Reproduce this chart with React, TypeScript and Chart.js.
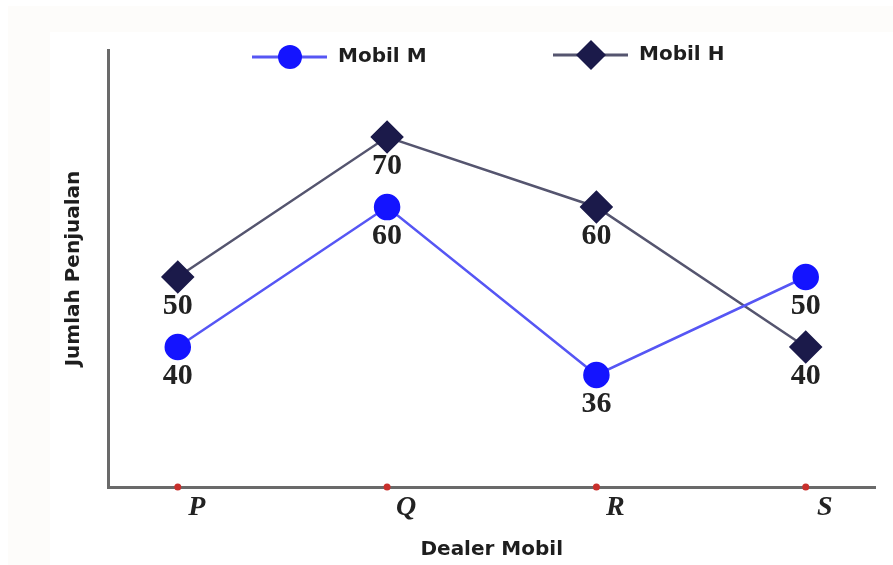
import React, { useEffect, useRef } from "react";
import { Chart, registerables } from "chart.js";

Chart.register(...registerables);

const categories = ["P", "Q", "R", "S"];
const mobilM = [40, 60, 36, 50];
const mobilH = [50, 70, 60, 40];
const seriesNames = ["Mobil M", "Mobil H"];
const yTitle = "Jumlah Penjualan";
const xTitle = "Dealer Mobil";

const colorM = "#1414ff";
const lineM = "#5656f4";
const colorH = "#1b1a4a";
const lineH = "#55556f";

const bgPlugin = {
  id: "bg",
  beforeDraw(chart: any) {
    const { ctx, width, height } = chart;
    ctx.save();
    ctx.fillStyle = "#ffffff";
    ctx.fillRect(0, 0, width, height);
    ctx.fillStyle = "#fdfcfa";
    ctx.fillRect(8, 6, width - 8, height - 6);
    ctx.fillStyle = "#ffffff";
    ctx.fillRect(50, 32, width - 50, height - 32);
    ctx.restore();
  },
};

const tickDotsPlugin = {
  id: "tickDots",
  afterDraw(chart: any) {
    const { ctx } = chart;
    const xs = chart.scales.x;
    const y = chart.chartArea.bottom;
    ctx.save();
    ctx.fillStyle = "#c8302c";
    categories.forEach((_, i) => {
      const x = xs.getPixelForValue(i);
      ctx.beginPath();
      ctx.arc(x, y, 3.5, 0, Math.PI * 2);
      ctx.fill();
    });
    ctx.restore();
  },
};

const dataLabelPlugin = {
  id: "dataLabels",
  afterDatasetsDraw(chart: any) {
    const { ctx } = chart;
    ctx.save();
    ctx.font = "bold 30px 'Liberation Serif', serif";
    ctx.fillStyle = "#222222";
    ctx.textAlign = "center";
    ctx.textBaseline = "middle";
    chart.data.datasets.forEach((ds: any, di: number) => {
      const meta = chart.getDatasetMeta(di);
      meta.data.forEach((pt: any, i: number) => {
        ctx.fillText(String(ds.data[i].y), pt.x, pt.y + 29);
      });
    });
    ctx.restore();
  },
};

const legendPlugin = {
  id: "customLegend",
  afterDraw(chart: any) {
    const { ctx } = chart;
    const spots = [
      { x: 252, y: 57 },
      { x: 553, y: 55 },
    ];
    ctx.save();
    chart.data.datasets.forEach((ds: any, di: number) => {
      const s = spots[di];
      ctx.strokeStyle = ds.borderColor;
      ctx.lineWidth = 3;
      ctx.beginPath();
      ctx.moveTo(s.x, s.y);
      ctx.lineTo(s.x + 75, s.y);
      ctx.stroke();
      const cx = s.x + 38;
      ctx.fillStyle = ds.pointBackgroundColor;
      ctx.beginPath();
      if (ds.pointStyle === "rectRot") {
        const r = 15;
        ctx.moveTo(cx - r, s.y);
        ctx.lineTo(cx, s.y - r);
        ctx.lineTo(cx + r, s.y);
        ctx.lineTo(cx, s.y + r);
        ctx.closePath();
      } else {
        ctx.arc(cx, s.y, 12, 0, Math.PI * 2);
      }
      ctx.fill();
      ctx.font = "bold 20px 'DejaVu Sans', sans-serif";
      ctx.fillStyle = "#1e1e1e";
      ctx.textAlign = "left";
      ctx.textBaseline = "middle";
      ctx.fillText(ds.label, s.x + 86, s.y);
    });
    ctx.restore();
  },
};

export default function App() {
  const ref = useRef<HTMLCanvasElement | null>(null);

  useEffect(() => {
    if (!ref.current) return;
    const chart = new Chart(ref.current, {
      type: "line",
      data: {
        datasets: [
          {
            label: seriesNames[0],
            data: mobilM.map((v, i) => ({ x: i, y: v })),
            borderColor: lineM,
            borderWidth: 2.5,
            pointBackgroundColor: colorM,
            pointBorderColor: colorM,
            pointRadius: 12,
            pointStyle: "circle",
            tension: 0,
          },
          {
            label: seriesNames[1],
            data: mobilH.map((v, i) => ({ x: i, y: v })),
            borderColor: lineH,
            borderWidth: 2.5,
            pointBackgroundColor: colorH,
            pointBorderColor: colorH,
            pointRadius: 15,
            pointStyle: "rectRot",
            tension: 0,
          },
        ],
      },
      options: {
        animation: false,
        responsive: true,
        maintainAspectRatio: false,
        layout: { padding: { left: 0, right: 13, top: 50, bottom: 0 } },
        plugins: {
          legend: { display: false },
          tooltip: { enabled: false },
        },
        scales: {
          x: {
            type: "linear",
            min: -1 / 3,
            max: 3 + 1 / 3,
            grid: { display: false, drawTicks: false },
            border: { display: true, color: "#6a6a6a", width: 3 },
            afterBuildTicks: (scale: any) => {
              scale.ticks = categories.map((_, i) => ({ value: i }));
            },
            afterFit: (scale: any) => {
              scale.height = 78;
            },
            ticks: {
              autoSkip: false,
              maxRotation: 0,
              padding: 4,
              labelOffset: 19,
              color: "#222222",
              font: { family: "'Liberation Serif', serif", size: 28, style: "italic", weight: "bold" },
              callback: (v: any) => categories[Math.round(Number(v))] ?? "",
            },
            title: {
              display: true,
              text: xTitle,
              color: "#1e1e1e",
              font: { family: "'DejaVu Sans', sans-serif", size: 20, weight: "bold" },
              padding: { top: 0, bottom: 3 },
            },
          },
          y: {
            min: 20,
            max: 82.43,
            grid: { display: false, drawTicks: false },
            border: { display: true, color: "#6a6a6a", width: 3 },
            ticks: { display: false },
            afterFit: (scale: any) => {
              scale.width = 108;
            },
            title: {
              display: true,
              text: yTitle,
              color: "#1e1e1e",
              font: { family: "'DejaVu Sans', sans-serif", size: 20, weight: "bold" },
              padding: { top: 62, bottom: 0 },
            },
          },
        },
      } as any,
      plugins: [bgPlugin, tickDotsPlugin, dataLabelPlugin, legendPlugin],
    });
    return () => chart.destroy();
  }, []);

  return (
    <div style={{ position: "absolute", left: 0, top: 0, width: 893, height: 565 }}>
      <canvas ref={ref} />
    </div>
  );
}
